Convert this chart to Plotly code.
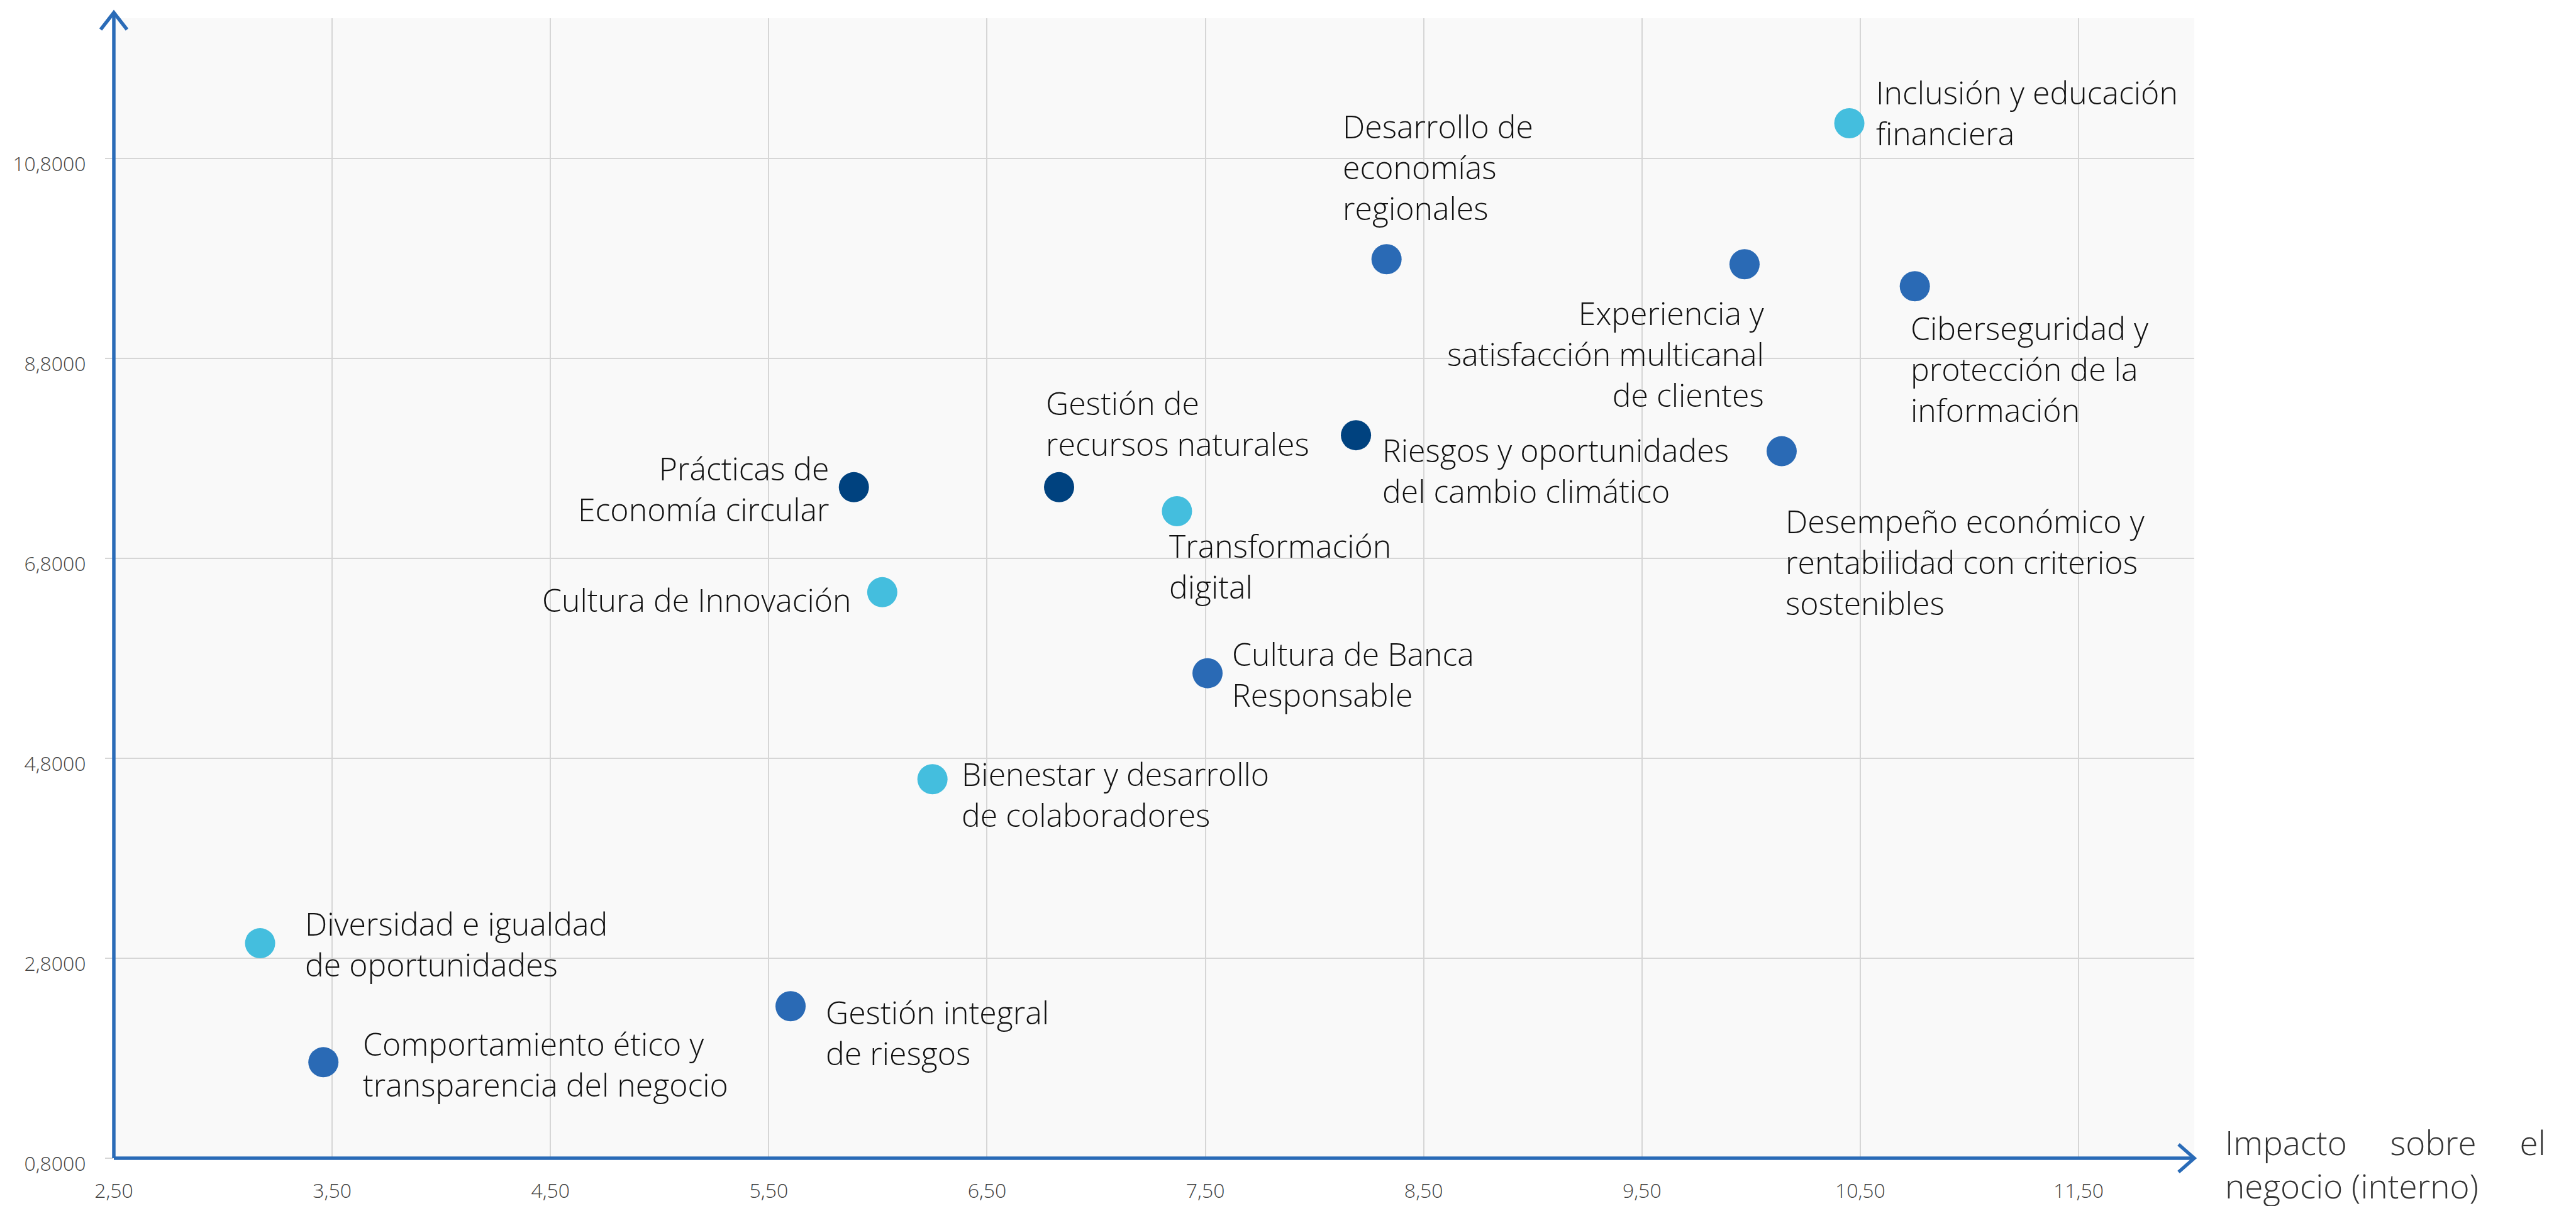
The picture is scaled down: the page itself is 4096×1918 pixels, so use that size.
import plotly.graph_objects as go

# ---------------- data ----------------
temas = [
    "Inclusión y educación financiera",
    "Ciberseguridad y protección de la información",
    "Experiencia y satisfacción multicanal de clientes",
    "Desarrollo de economías regionales",
    "Desempeño económico y rentabilidad con criterios sostenibles",
    "Riesgos y oportunidades del cambio climático",
    "Gestión de recursos naturales",
    "Prácticas de Economía circular",
    "Transformación digital",
    "Cultura de Innovación",
    "Cultura de Banca Responsable",
    "Bienestar y desarrollo de colaboradores",
    "Diversidad e igualdad de oportunidades",
    "Comportamiento ético y transparencia del negocio",
    "Gestión integral de riesgos",
]
impacto_negocio = [10.45, 10.75, 9.97, 8.33, 10.14, 8.19, 6.83, 5.89, 7.37, 6.02, 7.51, 6.25, 3.17, 3.46, 5.60]
impacto_externo = [11.15, 9.52, 9.74, 9.79, 7.87, 8.03, 7.51, 7.51, 7.27, 6.46, 5.65, 4.59, 2.95, 1.76, 2.32]
grupo = ["claro", "medio", "medio", "medio", "medio", "oscuro", "oscuro", "oscuro",
         "claro", "claro", "medio", "claro", "claro", "medio", "medio"]
etiquetas = [
    ["Inclusión y educación", "financiera"],
    ["Ciberseguridad y", "protección de la", "información"],
    ["Experiencia y", "satisfacción multicanal", "de clientes"],
    ["Desarrollo de", "economías", "regionales"],
    ["Desempeño económico y", "rentabilidad con criterios", "sostenibles"],
    ["Riesgos y oportunidades", "del cambio climático"],
    ["Gestión de", "recursos naturales"],
    ["Prácticas de", "Economía circular"],
    ["Transformación", "digital"],
    ["Cultura de Innovación"],
    ["Cultura de Banca", "Responsable"],
    ["Bienestar y desarrollo", "de colaboradores"],
    ["Diversidad e igualdad", "de oportunidades"],
    ["Comportamiento ético y", "transparencia del negocio"],
    ["Gestión integral", "de riesgos"],
]
titulo_x = ["Impacto\u00a0\u00a0\u00a0\u00a0\u00a0sobre\u00a0\u00a0\u00a0\u00a0\u00a0el", "negocio (interno)"]

# ---------------- style ----------------
S = 0.914
colores = {"claro": "#44BEDE", "medio": "#2A6AB5", "oscuro": "#00427F"}
AZUL_EJE = "#2A6BB7"
FONT = "Open Sans"

# label placement (reference px): anchor side, dx, dy of text block centre from point
colocacion = [
    ("left", 45, -18), ("left", -8, 144), ("right", 35, 156), ("left", -77, -160),
    ("left", 5, 193), ("left", 45, 62), ("left", -24, -111), ("right", -41, 3),
    ("left", -15, 96), ("right", -52, 13), ("left", 42, 2), ("left", 50, 26),
    ("left", 77, 2), ("left", 68, 3), ("left", 60, 46),
]

W_PLOT, H_PLOT = 3312, 1816
ML, MT = 169, 21

fig = go.Figure()
fig.add_trace(go.Scatter(
    x=impacto_negocio, y=impacto_externo, mode="markers",
    marker=dict(size=48, color=[colores[g] for g in grupo], line=dict(width=0)),
    text=temas, hoverinfo="text", showlegend=False,
))

anots = []
for xv, yv, lineas, (lado, dx, dy) in zip(impacto_negocio, impacto_externo, etiquetas, colocacion):
    anots.append(dict(
        x=xv, y=yv, xref="x", yref="y", text="<br>".join(lineas), showarrow=False,
        xanchor=lado, yanchor="middle", align=lado,
        xshift=dx * S, yshift=-dy * S, borderpad=0,
        font=dict(family=FONT, size=50, color="#111111", weight=300),
    ))

# axis title (right of x axis arrow)
anots.append(dict(
    x=(3529 - ML) / W_PLOT, y=0, xref="x domain", yref="y domain",
    text="<br>".join(titulo_x), showarrow=False, xanchor="left", yanchor="middle",
    align="left", yshift=-9, borderpad=0,
    font=dict(family=FONT, size=53, color="#333333", weight=300),
))

# axis lines with open arrow heads
tip_y = 1 + 9 / H_PLOT
ax_w, ax_h = 21 / W_PLOT, 27 / H_PLOT
bx_w, bx_h = 25 / W_PLOT, 22 / H_PLOT
shapes = [
    dict(type="path", xref="x domain", yref="y domain",
         path=f"M 0 0 L 0 {tip_y}", line=dict(color=AZUL_EJE, width=5.5)),
    dict(type="path", xref="x domain", yref="y domain",
         path=f"M {-ax_w} {tip_y - ax_h} L 0 {tip_y} L {ax_w} {tip_y - ax_h}",
         line=dict(color=AZUL_EJE, width=5.5)),
    dict(type="path", xref="x domain", yref="y domain",
         path="M 0 0 L 1 0", line=dict(color=AZUL_EJE, width=5.5)),
    dict(type="path", xref="x domain", yref="y domain",
         path=f"M {1 - bx_w} {bx_h} L 1 0 L {1 - bx_w} {-bx_h}",
         line=dict(color=AZUL_EJE, width=5.5)),
]

fig.update_layout(
    width=4096, height=1918,
    margin=dict(l=ML, r=4096 - ML - W_PLOT, t=MT, b=1918 - MT - H_PLOT, pad=0),
    paper_bgcolor="white", plot_bgcolor="#F9F9F9",
    separators=",.",
    annotations=anots, shapes=shapes,
    xaxis=dict(
        range=[2.5, 12.03], tick0=2.5, dtick=1, tickformat=".2f",
        showgrid=True, gridcolor="#D6D6D6", gridwidth=1.6, zeroline=False,
        showline=False, ticks="", ticklabelstandoff=30,
        tickfont=dict(family=FONT, size=32, color="#444444", weight=300),
    ),
    yaxis=dict(
        range=[0.8, 12.2], tick0=0.8, dtick=2, tickformat=".4f",
        showgrid=True, gridcolor="#D6D6D6", gridwidth=1.6, zeroline=False,
        showline=False, ticks="outside", ticklen=13, tickcolor="#D6D6D6", tickwidth=1.6,
        ticklabelstandoff=24, ticklabelshift=9,
        tickfont=dict(family=FONT, size=32, color="#444444", weight=300),
    ),
)

fig.write_html("out.html")
